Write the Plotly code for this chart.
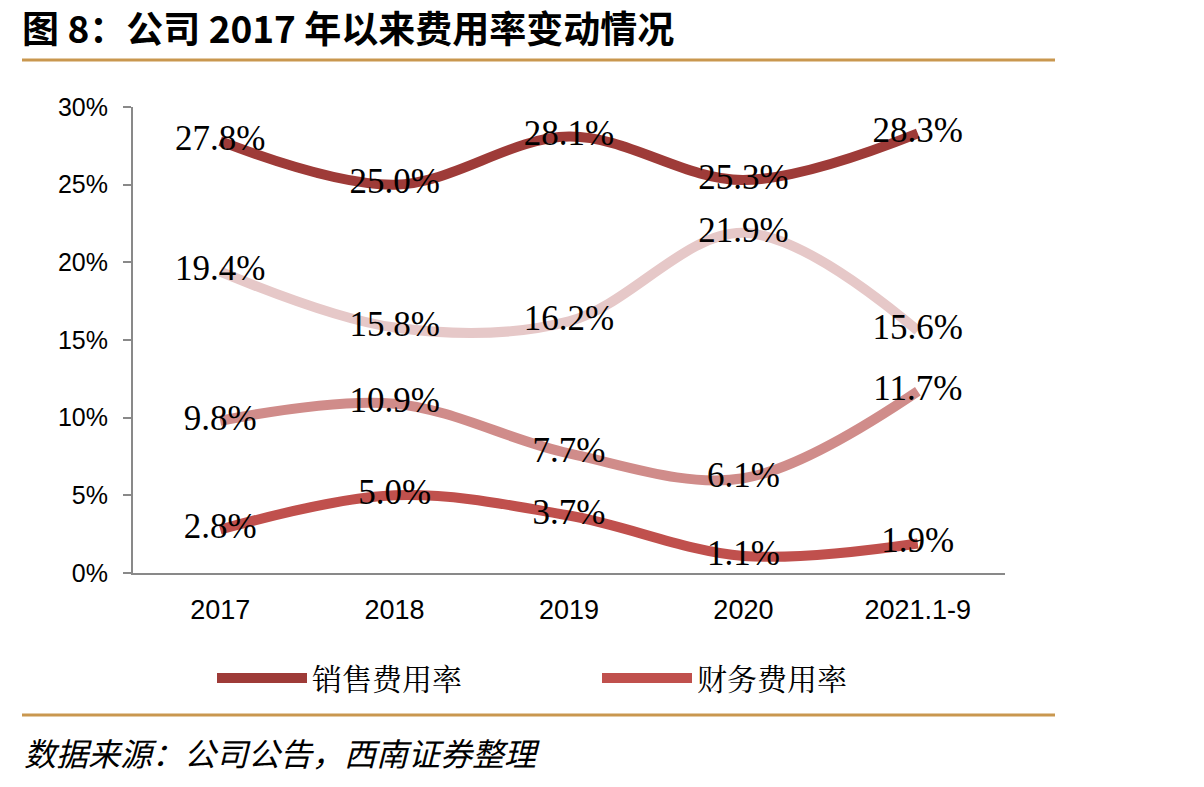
import plotly.graph_objects as go

categories = ["2017", "2018", "2019", "2020", "2021.1-9"]
sales_rate = [27.8, 25.0, 28.1, 25.3, 28.3]
admin_rate = [19.4, 15.8, 16.2, 21.9, 15.6]
rd_rate = [9.8, 10.9, 7.7, 6.1, 11.7]
fin_rate = [2.8, 5.0, 3.7, 1.1, 1.9]
y_ticks = [0, 5, 10, 15, 20, 25, 30]

W, H = 1204, 787
L, R, T, B = 133, 1005, 107, 573

def px(x):
    return (x - L) / (R - L)

def py(y):
    return (B - y) / (B - T)

series = [
    ("管理费用率", admin_rate, "#E6C8C8", False),
    ("研发费用率", rd_rate, "#D08C8A", False),
    ("销售费用率", sales_rate, "#9E3B38", True),
    ("财务费用率", fin_rate, "#C0504D", True),
]

fig = go.Figure()
for name, vals, color, show in series:
    fig.add_trace(go.Scatter(
        x=categories, y=vals, name=name, mode="lines+text",
        line=dict(color=color, width=10, shape="spline", smoothing=1.0),
        text=[f"{v:.1f}%" for v in vals], textposition="middle center",
        textfont=dict(family="Liberation Serif, Times New Roman, serif", size=35, color="#000000"),
        showlegend=show, cliponaxis=False,
    ))

legend_order = ["销售费用率", "财务费用率"]
for tr in fig.data:
    if tr.name in legend_order:
        tr.legendrank = legend_order.index(tr.name)

fig.update_layout(
    width=W, height=H,
    margin=dict(l=L, r=W - R, t=T, b=H - B),
    paper_bgcolor="white", plot_bgcolor="white",
    font=dict(family="Liberation Sans, Arial, sans-serif", color="#000000"),
    xaxis=dict(
        type="category", range=[-0.5, 4.5], showgrid=False, showline=True,
        linecolor="#898989", linewidth=2, ticks="",
        tickfont=dict(size=27, family="Liberation Sans, Arial, sans-serif"),
        ticklabelstandoff=12,
    ),
    yaxis=dict(
        range=[0, 30], tickvals=y_ticks, ticktext=[f"{v}%" for v in y_ticks],
        showgrid=False, showline=True, linecolor="#898989", linewidth=2,
        ticks="outside", ticklen=8, tickcolor="#898989", tickwidth=2,
        tickfont=dict(size=25, family="Liberation Sans, Arial, sans-serif"),
        ticklabelstandoff=10, zeroline=False,
    ),
    legend=dict(
        orientation="h", x=px(212), y=py(678), xanchor="left", yanchor="middle",
        font=dict(size=30, family="Noto Serif CJK SC, Noto Sans CJK SC, serif", color="#000000"),
        entrywidth=280, entrywidthmode="pixels", itemwidth=90,
        bgcolor="rgba(0,0,0,0)",
    ),
    shapes=[
        dict(type="line", xref="paper", yref="paper", x0=px(22), x1=px(1055), y0=py(60), y1=py(60),
             line=dict(color="#C9974F", width=3)),
        dict(type="line", xref="paper", yref="paper", x0=px(22), x1=px(1055), y0=py(715), y1=py(715),
             line=dict(color="#C9974F", width=3)),
    ],
    annotations=[
        dict(text="<b>图 8：公司 2017 年以来费用率变动情况</b>", xref="paper", yref="paper",
             x=px(20), y=py(27), xanchor="left", yanchor="middle", showarrow=False,
             font=dict(size=37, family="Noto Sans CJK SC, sans-serif", color="#000000")),
        dict(text="<i>数据来源：公司公告，西南证券整理</i>", xref="paper", yref="paper",
             x=px(22), y=py(752), xanchor="left", yanchor="middle", showarrow=False,
             font=dict(size=32, family="Noto Sans CJK SC, sans-serif", color="#000000")),
    ],
)

fig.write_html("out.html")
